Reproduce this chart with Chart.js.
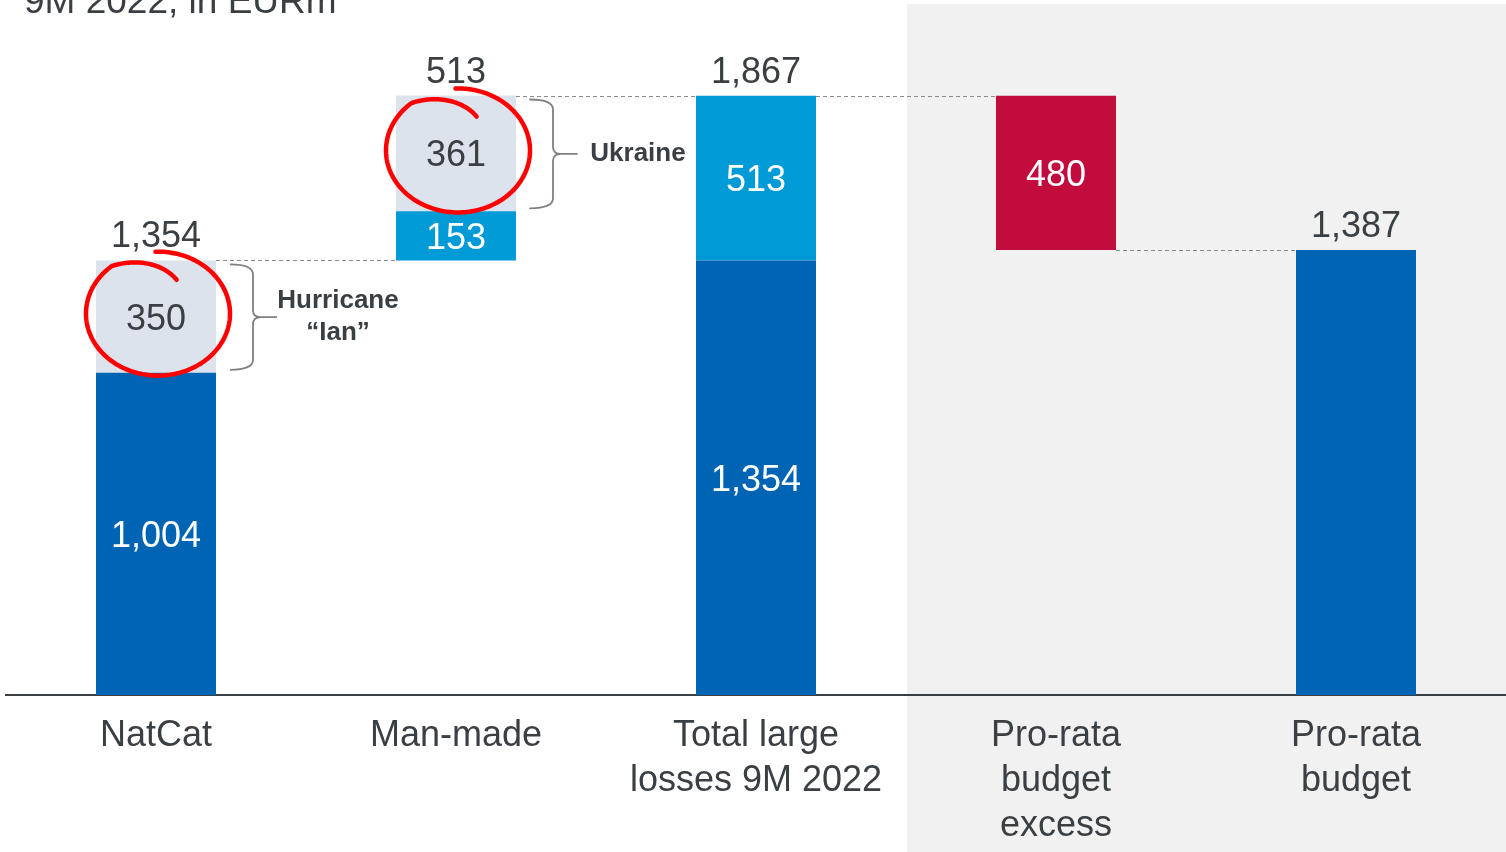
<!DOCTYPE html>
<html>
<head>
<meta charset="utf-8">
<script src="https://cdn.jsdelivr.net/npm/chart.js@4.4.1/dist/chart.umd.min.js"></script>
<style>
    body { margin: 0; background: #ffffff; }
    #wrap { width: 1506px; height: 852px; position: relative; }
</style>
</head>
<body>
<div id="wrap"><canvas id="chartLosses"></canvas></div>
<script>
// Datos del gráfico (EURm)
const categories = [['NatCat'], ['Man-made'], ['Total large', 'losses 9M 2022'], ['Pro-rata', 'budget', 'excess'], ['Pro-rata', 'budget']];
const baseLosses = [1004, null, 1354, null, 1387];
const otherLosses = [null, 153, 513, null, null];
const eventLosses = [350, 361, null, null, null];
const budgetExcess = [null, null, null, 480, null];
const startLevels = [0, 1354, 0, 1387, 0];
const totalLabels = ['1,354', '513', '1,867', '', '1,387'];
const innerLabels = [true, true, true, true, false];
const eventNames = [['Hurricane', '\u201cIan\u201d'], ['Ukraine'], null, null, null];
const connectorLevels = [1354, 1867, 1867, 1387];
const titleText = '9M 2022, in EURm';

const colores = {
    darkBlue: '#0064b4',
    lightBlue: '#009ad6',
    grey: '#dde3ed',
    red: '#c20c3e',
    text: '#3a3f44',
    panel: '#f1f1f1',
    dash: '#8c8c8c',
    marker: '#ff0000'
};
const fontFamily = '"Liberation Sans", Arial, sans-serif';

// Construir barras flotantes (cascada)
const seriesOrder = [baseLosses, otherLosses, eventLosses, budgetExcess];
const floating = seriesOrder.map(() => []);
categories.forEach((c, i) => {
    let level = startLevels[i];
    seriesOrder.forEach((serie, s) => {
        const v = serie[i];
        if (v) {
            floating[s].push([level, level + v]);
            level += v;
        } else {
            floating[s].push(null);
        }
    });
});

const segmentStyles = [
    { label: 'Base', color: colores.darkBlue, textColor: '#ffffff' },
    { label: 'Other', color: colores.lightBlue, textColor: '#ffffff' },
    { label: 'Events', color: colores.grey, textColor: colores.text },
    { label: 'Excess', color: colores.red, textColor: '#ffffff' }
];

const fondoPanel = {
    id: 'fondoPanel',
    beforeDraw(chart) {
        const ctx = chart.ctx;
        const x = chart.scales.x;
        const left = (x.getPixelForValue(2) + x.getPixelForValue(3)) / 2 + 1;
        ctx.save();
        ctx.fillStyle = colores.panel;
        ctx.fillRect(left, 4, chart.width - left, chart.height - 4);
        ctx.restore();
    }
};

const etiquetas = {
    id: 'etiquetas',
    afterDatasetsDraw(chart) {
        const ctx = chart.ctx;
        const y = chart.scales.y;
        ctx.save();

        // Conectores punteados
        ctx.strokeStyle = colores.dash;
        ctx.lineWidth = 1.2;
        ctx.setLineDash([4, 3]);
        for (let i = 0; i < connectorLevels.length; i++) {
            const a = findElement(chart, i);
            const b = findElement(chart, i + 1);
            const py = Math.round(y.getPixelForValue(connectorLevels[i])) + 0.5;
            ctx.beginPath();
            ctx.moveTo(a.x + a.width / 2, py);
            ctx.lineTo(b.x - b.width / 2, py);
            ctx.stroke();
        }
        ctx.setLineDash([]);

        // Valores dentro de los segmentos
        ctx.font = '36px ' + fontFamily;
        ctx.textAlign = 'center';
        ctx.textBaseline = 'middle';
        seriesOrder.forEach((serie, s) => {
            const meta = chart.getDatasetMeta(s);
            meta.data.forEach((el, i) => {
                if (!serie[i] || !innerLabels[i]) return;
                ctx.fillStyle = segmentStyles[s].textColor;
                ctx.fillText(serie[i].toLocaleString('en-US'), el.x, (el.y + el.base) / 2 + 3);
            });
        });

        // Totales encima de las barras
        ctx.fillStyle = colores.text;
        ctx.textBaseline = 'alphabetic';
        categories.forEach((c, i) => {
            if (!totalLabels[i]) return;
            let top = Infinity, cx = 0;
            seriesOrder.forEach((serie, s) => {
                const el = chart.getDatasetMeta(s).data[i];
                if (serie[i] && el.y < top) { top = el.y; cx = el.x; }
            });
            ctx.fillText(totalLabels[i], cx, top - 13);
        });

        // Llaves y nombres de eventos
        const metaEv = chart.getDatasetMeta(2);
        metaEv.data.forEach((el, i) => {
            if (!eventNames[i]) return;
            const right = el.x + el.width / 2;
            const top = el.y + 4;
            const bottom = el.base - 3;
            const mid = (top + bottom) / 2;
            const x0 = right + 14, x1 = right + 37, tip = right + 61;
            ctx.strokeStyle = '#808080';
            ctx.lineWidth = 1.8;
            ctx.beginPath();
            ctx.moveTo(x0, top);
            ctx.quadraticCurveTo(x1, top, x1, top + 10);
            ctx.lineTo(x1, mid - 7);
            ctx.quadraticCurveTo(x1, mid, x1 + 8, mid);
            ctx.lineTo(tip, mid);
            ctx.moveTo(x1 + 8, mid);
            ctx.quadraticCurveTo(x1, mid, x1, mid + 7);
            ctx.lineTo(x1, bottom - 10);
            ctx.quadraticCurveTo(x1, bottom, x0, bottom);
            ctx.stroke();

            ctx.fillStyle = colores.text;
            ctx.font = 'bold 26px ' + fontFamily;
            ctx.textBaseline = 'middle';
            const lines = eventNames[i];
            lines.forEach((t, k) => {
                ctx.fillText(t, right + 122, mid + (k - (lines.length - 1) / 2) * 32);
            });

            // Círculo rojo a mano alzada
            const cx = el.x + 2, cy = (el.y + el.base) / 2 - 3;
            const rx = 72, ry = 62;
            const a0 = -92 * Math.PI / 180, a1 = 296 * Math.PI / 180;
            const aShrink = 230 * Math.PI / 180;
            ctx.strokeStyle = colores.marker;
            ctx.lineWidth = 4.5;
            ctx.lineCap = 'round';
            ctx.beginPath();
            for (let a = a0; a <= a1; a += 0.02) {
                let f = 1;
                if (a > aShrink) f = 1 - 0.4 * (a - aShrink) / (a1 - aShrink);
                const px = cx + rx * f * Math.cos(a);
                const py = cy + ry * f * Math.sin(a);
                if (a === a0) ctx.moveTo(px, py); else ctx.lineTo(px, py);
            }
            ctx.stroke();
        });

        ctx.restore();
    },
    afterDraw(chart) {
        const ctx = chart.ctx;
        ctx.save();
        ctx.fillStyle = colores.text;
        ctx.font = '37px ' + fontFamily;
        ctx.textAlign = 'left';
        ctx.textBaseline = 'alphabetic';
        ctx.fillText(titleText, 24, 13);
        ctx.restore();
    }
};

function findElement(chart, i) {
    for (let s = 0; s < seriesOrder.length; s++) {
        if (seriesOrder[s][i]) return chart.getDatasetMeta(s).data[i];
    }
    return chart.getDatasetMeta(0).data[i];
}

document.addEventListener('DOMContentLoaded', function () {
    new Chart(document.getElementById('chartLosses'), {
        type: 'bar',
        data: {
            labels: categories,
            datasets: segmentStyles.map((st, s) => ({
                label: st.label,
                data: floating[s],
                backgroundColor: st.color,
                borderWidth: 0,
                categoryPercentage: 1,
                barPercentage: 0.4
            }))
        },
        options: {
            responsive: true,
            maintainAspectRatio: false,
            animation: false,
            layout: { padding: { left: 6, right: 0, top: 40, bottom: 0 } },
            plugins: {
                legend: { display: false },
                tooltip: { enabled: false }
            },
            scales: {
                x: {
                    stacked: true,
                    grid: { display: false, drawTicks: false },
                    border: { display: true, color: colores.text, width: 2 },
                    ticks: {
                        color: colores.text,
                        font: { family: fontFamily, size: 36, lineHeight: 1.25 },
                        padding: 19,
                        maxRotation: 0,
                        autoSkip: false
                    },
                    afterFit(scale) {
                        scale.height = 157;
                    }
                },
                y: {
                    display: false,
                    min: 0,
                    max: 2041
                }
            }
        },
        plugins: [fondoPanel, etiquetas]
    });
});
</script>
</body>
</html>
